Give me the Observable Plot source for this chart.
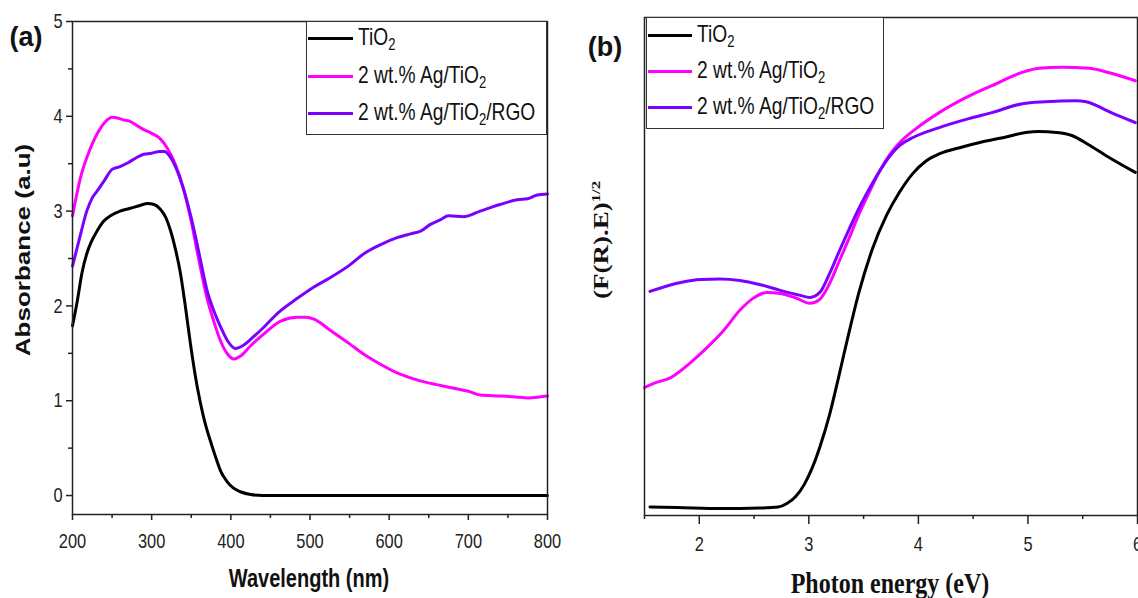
<!DOCTYPE html>
<html>
<head>
<meta charset="utf-8">
<script src="https://cdn.jsdelivr.net/npm/d3@7"></script>
<script src="https://cdn.jsdelivr.net/npm/@observablehq/plot@0.6"></script>
<style>
html,body{margin:0;padding:0;background:#fff;width:1138px;height:598px;overflow:hidden;}
#root{position:relative;width:1138px;height:598px;overflow:hidden;}
.abs{position:absolute;white-space:nowrap;line-height:1;}
.sans{font-family:"Liberation Sans",Arial,Helvetica,sans-serif;}
.serif{font-family:"Liberation Serif","Times New Roman",Times,serif;}
sub{font-size:0.68em;vertical-align:-0.32em;line-height:0;}
sup{font-size:0.62em;vertical-align:0.6em;line-height:0;}
.legend{position:absolute;border:1.2px solid #333;box-sizing:border-box;background:#fff;}
.swatch{position:absolute;height:3px;}
.ltext{position:absolute;white-space:nowrap;line-height:1;font-size:24px;color:#111;transform-origin:left center;}
svg{position:absolute;top:0;overflow:visible;}
</style>
</head>
<body>
<div id="root"></div>
<script>
// ---------- series / legend ----------
const seriesNames = ["TiO2", "2 wt.% Ag/TiO2", "2 wt.% Ag/TiO2/RGO"];
const seriesColors = ["#000000", "#ff00ff", "#7a00ff"];

// ---------- panel (a): absorbance vs wavelength (nm) ----------
const absTiO2 = [[200,1.79],[206,2.05],[212,2.35],[218,2.55],[224,2.68],[229,2.76],[239,2.89],[248,2.95],[260,3.0],[273,3.03],[285,3.06],[295,3.08],[303,3.07],[311,3.02],[318,2.93],[324,2.79],[330,2.6],[336,2.36],[342,2.03],[349,1.6],[355,1.27],[361,1.0],[367,0.78],[374,0.58],[381,0.4],[387,0.26],[395,0.15],[403,0.08],[412,0.04],[425,0.01],[440,0],[500,0],[600,0],[700,0],[800,0]];
const absAgTiO2 = [[200,2.95],[210,3.35],[222,3.65],[235,3.87],[245,3.97],[250,3.99],[258,3.98],[265,3.96],[272,3.95],[280,3.91],[290,3.86],[300,3.82],[310,3.77],[320,3.66],[330,3.49],[340,3.24],[350,2.89],[360,2.47],[370,2.08],[378,1.85],[387,1.63],[396,1.49],[404,1.44],[412,1.47],[425,1.58],[441,1.7],[463,1.84],[484,1.88],[495,1.88],[505,1.86],[526,1.74],[550,1.6],[568,1.49],[590,1.38],[614,1.28],[639,1.21],[660,1.17],[677,1.14],[700,1.1],[715,1.06],[740,1.05],[760,1.04],[775,1.03],[790,1.04],[800,1.05]];
const absAgTiO2RGO = [[200,2.42],[210,2.75],[218,3.0],[225,3.14],[231,3.21],[240,3.32],[250,3.44],[260,3.47],[270,3.51],[280,3.56],[290,3.6],[300,3.61],[310,3.63],[316,3.63],[322,3.59],[330,3.47],[340,3.24],[350,2.93],[360,2.55],[370,2.16],[378,1.96],[387,1.78],[396,1.63],[406,1.55],[415,1.58],[428,1.67],[441,1.77],[460,1.93],[484,2.08],[505,2.2],[526,2.3],[550,2.43],[568,2.55],[590,2.65],[610,2.72],[627,2.76],[640,2.79],[652,2.86],[665,2.91],[675,2.95],[694,2.94],[715,3.0],[740,3.07],[762,3.12],[775,3.13],[787,3.17],[800,3.18]];
const aXTicks = [200, 300, 400, 500, 600, 700, 800];
const aXMinor = [250, 350, 450, 550, 650, 750];
const aYTicks = [0, 1, 2, 3, 4, 5];
const aYMinor = [0.5, 1.5, 2.5, 3.5, 4.5];

// ---------- panel (b): (F(R).E)^1/2 vs photon energy (eV), arbitrary units ----------
const taucTiO2 = [[1.55,1.7],[1.8,1.6],[2.2,1.4],[2.55,1.5],[2.72,1.7],[2.8,2.4],[2.88,3.8],[2.96,6.3],[3.03,9.5],[3.1,13.7],[3.19,20.3],[3.27,27.6],[3.35,35.2],[3.46,45.0],[3.58,53.5],[3.71,60.3],[3.83,65.0],[3.95,68.7],[4.07,71.2],[4.19,72.6],[4.4,74.0],[4.56,74.9],[4.8,76.0],[4.98,76.9],[5.1,77.1],[5.26,76.9],[5.4,76.3],[5.55,74.5],[5.71,72.3],[5.98,68.9]];
const taucAgTiO2 = [[1.5,25.7],[1.58,26.5],[1.74,27.7],[1.92,30.7],[2.07,33.7],[2.22,37.1],[2.37,41.2],[2.49,43.6],[2.62,44.8],[2.74,44.6],[2.89,43.6],[3.01,42.6],[3.1,43.4],[3.19,46.6],[3.28,51.2],[3.37,55.8],[3.46,60.6],[3.56,65.3],[3.65,69.3],[3.74,72.5],[3.83,74.9],[4.01,78.2],[4.19,80.9],[4.46,84.2],[4.67,86.3],[4.95,89.0],[5.1,89.8],[5.31,90.0],[5.56,89.8],[5.76,88.8],[5.98,87.3]];
const taucAgTiO2RGO = [[1.55,45.0],[1.83,46.8],[2.01,47.4],[2.19,47.5],[2.37,47.2],[2.55,46.4],[2.74,45.2],[2.92,44.2],[3.01,43.8],[3.1,44.8],[3.19,48.6],[3.28,53.2],[3.37,57.6],[3.46,61.8],[3.56,65.9],[3.65,69.3],[3.74,72.2],[3.83,74.3],[3.95,75.9],[4.19,77.9],[4.46,79.7],[4.67,80.9],[4.95,82.7],[5.16,83.1],[5.44,83.3],[5.53,83.1],[5.76,80.9],[5.98,78.9]];
const bXTicks = [2, 3, 4, 5, 6];
const bXMinor = [1.5, 2.5, 3.5, 4.5, 5.5];

// ---------- build tables ----------
function table(list) {
  const out = [];
  list.forEach((arr, i) => arr.forEach(([x, y]) => out.push({series: seriesNames[i], x, y})));
  return out;
}
const dataA = table([absTiO2, absAgTiO2, absAgTiO2RGO]);
const dataB = table([taucTiO2, taucAgTiO2, taucAgTiO2RGO]);

const root = document.getElementById("root");
const axisStyle = {fontFamily: "'Liberation Sans', Arial, sans-serif", fontSize: "21px", color: "#222", background: "transparent", overflow: "visible"};
const intFmt = d => String(d);

const plotA = Plot.plot({
  width: 560, height: 598,
  marginLeft: 72, marginRight: 13, marginTop: 21, marginBottom: 84,
  style: axisStyle,
  x: {domain: [200, 800]},
  y: {domain: [-0.2, 5]},
  color: {domain: seriesNames, range: seriesColors},
  marks: [
    Plot.axisX(aXTicks, {tickSize: 6, tickPadding: 13, tickFormat: intFmt, label: null, stroke: "#222", strokeWidth: 1.5}),
    Plot.axisX(aXMinor, {tickSize: 4, tickFormat: () => "", label: null, stroke: "#222", strokeWidth: 1.5}),
    Plot.axisY(aYTicks, {tickSize: 6, tickPadding: 4, tickFormat: intFmt, label: null, stroke: "#222", strokeWidth: 1.5}),
    Plot.axisY(aYMinor, {tickSize: 4, tickFormat: () => "", label: null, stroke: "#222", strokeWidth: 1.5}),
    Plot.line(dataA, {x: "x", y: "y", z: "series", stroke: "series", strokeWidth: 3, curve: "monotone-x"}),
    Plot.frame({stroke: "#222", strokeWidth: 1.5})
  ]
});
plotA.style.left = "0px";
root.appendChild(plotA);

const plotB = Plot.plot({
  width: 578, height: 598,
  marginLeft: 84, marginRight: 1, marginTop: 17, marginBottom: 83,
  style: axisStyle,
  x: {domain: [1.5, 6]},
  y: {domain: [0, 100], axis: null},
  color: {domain: seriesNames, range: seriesColors},
  marks: [
    Plot.axisX(bXTicks, {tickSize: 9, tickPadding: 12, tickFormat: intFmt, label: null, stroke: "#222", strokeWidth: 1.5}),
    Plot.axisX(bXMinor, {tickSize: 4, tickFormat: () => "", label: null, stroke: "#222", strokeWidth: 1.5}),
    Plot.line(dataB, {x: "x", y: "y", z: "series", stroke: "series", strokeWidth: 3, curve: "monotone-x"}),
    Plot.frame({stroke: "#222", strokeWidth: 1.5})
  ]
});
plotB.style.left = "560px";
root.appendChild(plotB);

// condense tick labels horizontally (the reference type is narrow)
[plotA, plotB].forEach(svg => {
  svg.querySelectorAll('g[aria-label$="tick label"] text').forEach(t => {
    const L = t.getComputedTextLength();
    if (L > 0) { t.setAttribute("textLength", (L * 0.78).toFixed(2)); t.setAttribute("lengthAdjust", "spacingAndGlyphs"); }
  });
});

// ---------- text labels ----------
function label(html, cx, cy, cls, size, extra) {
  const d = document.createElement("div");
  d.className = "abs " + cls;
  d.style.fontSize = size + "px";
  d.style.fontWeight = "bold";
  d.style.color = "#111";
  d.innerHTML = html;
  d.style.left = cx + "px";
  d.style.top = cy + "px";
  d.style.transform = "translate(-50%,-50%) " + (extra || "");
  root.appendChild(d);
}
label("(a)", 26, 37, "sans", 27);
label("(b)", 605, 47, "sans", 27);
label("Wavelength (nm)", 309, 578, "sans", 25, "scaleX(0.8)");
label("Absorbance (a.u)", 23, 250, "sans", 26, "rotate(-90deg) scaleY(0.8)");
label("Photon energy (eV)", 890, 583, "serif", 30, "scaleX(0.8)");
label("(F(R).E)<sup>1/2</sup>", 601, 240, "serif", 27, "rotate(-90deg) scaleY(0.8)");

// ---------- legends ----------
function legend(left, top, width, height, lx0, lx1, tx, ys) {
  const box = document.createElement("div");
  box.className = "legend";
  Object.assign(box.style, {left: left + "px", top: top + "px", width: width + "px", height: height + "px"});
  root.appendChild(box);
  seriesNames.forEach((name, i) => {
    const s = document.createElement("div");
    s.className = "swatch";
    Object.assign(s.style, {left: lx0 + "px", top: (ys[i] - 1.5) + "px", width: (lx1 - lx0) + "px", background: seriesColors[i]});
    root.appendChild(s);
    const t = document.createElement("div");
    t.className = "ltext sans";
    t.innerHTML = name.replace(/TiO2/g, "TiO<sub>2</sub>");
    Object.assign(t.style, {left: tx + "px", top: (ys[i] - 1) + "px", transform: "translateY(-50%) scaleX(0.8)"});
    root.appendChild(t);
  });
}
legend(306, 21, 241, 114, 308, 353, 358, [38, 76, 113]);
legend(646, 17, 238, 112, 648, 692, 697, [35, 71, 107]);
</script>
</body>
</html>
